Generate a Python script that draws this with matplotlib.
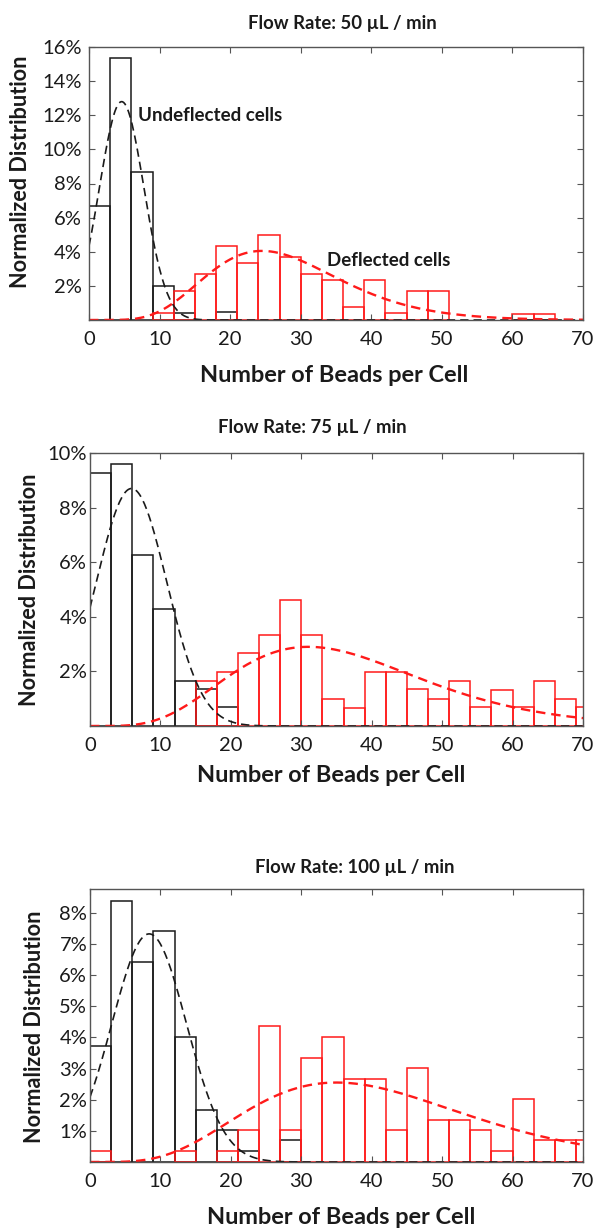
import numpy as np
import matplotlib.pyplot as plt

plt.rcParams['font.family'] = ['Lato', 'DejaVu Sans']

# bins of 3 beads, 0-3, 3-6, ... 69-72
bin_edges = np.arange(0, 75, 3)

# heights in %
undeflected_50 = [6.66, 15.33, 8.68, 2.02, 0.39, 0, 0.45, 0, 0, 0, 0, 0,
                  0, 0, 0, 0, 0, 0, 0, 0, 0, 0, 0, 0]
deflected_50 = [0, 0, 0, 0.40, 1.70, 2.68, 4.35, 3.33, 5.00, 3.70, 2.68, 2.35,
                0.74, 2.35, 0.39, 1.70, 1.70, 0, 0, 0, 0.35, 0.35, 0, 0]

undeflected_75 = [9.27, 9.61, 6.26, 4.30, 1.65, 1.34, 0.68, 0, 0, 0, 0, 0,
                  0, 0, 0, 0, 0, 0, 0, 0, 0, 0, 0, 0]
deflected_75 = [0, 0, 0, 0, 0, 1.65, 1.99, 2.66, 3.32, 4.61, 3.32, 1.00,
                0.67, 1.98, 1.98, 1.34, 1.00, 1.65, 0.68, 1.32, 0.68, 1.65, 1.00, 0.68]

undeflected_100 = [3.71, 8.39, 6.41, 7.41, 4.02, 1.68, 1.02, 0.35, 0, 0.70, 0, 0,
                   0, 0, 0, 0, 0, 0, 0, 0, 0, 0, 0, 0]
deflected_100 = [0.36, 0, 0, 0, 0.35, 0, 0.35, 1.02, 4.37, 1.02, 3.33, 4.00,
                 2.67, 2.67, 1.02, 3.01, 1.36, 1.36, 1.02, 0.35, 2.02, 0.69, 0.69, 0.69]

# fitted curves: normal for undeflected (mean, sd, peak), gamma-like for deflected (mode, k-1, peak)
fit_black = [(4.63, 3.15, 12.8), (5.9, 5.0, 8.7), (8.4, 5.3, 7.32)]
fit_red = [(24.5, 6.8, 4.05), (31.0, 5.2, 2.9), (35.0, 5.0, 2.55)]

titles = ['Flow Rate: 50 µL / min', 'Flow Rate: 75 µL / min', 'Flow Rate: 100 µL / min']
y_tops = [16, 10, 8.76]
y_ticks = [[2, 4, 6, 8, 10, 12, 14, 16], [2, 4, 6, 8, 10], [1, 2, 3, 4, 5, 6, 7, 8]]
x_ticks = [0, 10, 20, 30, 40, 50, 60, 70]

hists = [(undeflected_50, deflected_50), (undeflected_75, deflected_75),
         (undeflected_100, deflected_100)]

W, H = 600, 1231
fig = plt.figure(figsize=(W / 100, H / 100), dpi=100)

# pixel boxes of each axes (left, top, right, bottom)
boxes = [(89, 47, 583, 320), (90, 453, 583, 726), (90, 889, 583, 1162)]
title_pos = [(342, 24), (312, 428), (355, 868)]
xlabel_pos = [(334, 375), (331, 775), (341, 1218)]
ylabel_pos = [(21, 172), (30, 590), (35, 1027)]
ypads = [5, 2, 2]

xs = np.linspace(0, 70, 400)
edge_c = '#555555'

for i in range(3):
    l, t, r, b = boxes[i]
    ax = fig.add_axes([l / W, 1 - b / H, (r - l) / W, (b - t) / H])
    black, red = hists[i]
    black = np.array(black)
    red = np.array(red)
    left = bin_edges[:-1]

    mb = black > 0
    ax.bar(left[mb], black[mb], width=3, align='edge', fill=False,
           edgecolor='#1a1a1a', linewidth=1.1)
    mr = red > 0
    ax.bar(left[mr], red[mr], width=3, align='edge', fill=False,
           edgecolor='#ff1a1a', linewidth=1.1)

    mu, sd, pk = fit_black[i]
    ax.plot(xs, pk * np.exp(-(xs - mu) ** 2 / (2 * sd ** 2)), color='#1a1a1a',
            linestyle=(0, (5, 3)), linewidth=1.2)
    mode, km1, pk = fit_red[i]
    u = np.maximum(xs, 1e-9) / mode
    ax.plot(xs, pk * u ** km1 * np.exp(-km1 * (u - 1)), color='#ff1a1a',
            linestyle=(0, (4, 2.5)), linewidth=1.7)

    ax.set_xlim(0, 70)
    ax.set_ylim(0, y_tops[i])
    ax.set_xticks(x_ticks)
    ax.set_xticklabels([str(v) for v in x_ticks])
    ax.set_yticks(y_ticks[i])
    ax.set_yticklabels([f'{v}%' for v in y_ticks[i]])
    ax.tick_params(direction='in', top=True, right=True, length=4, width=0.8,
                   color=edge_c, labelsize=14.5, labelcolor='#1a1a1a')
    ax.tick_params(axis='x', pad=8)
    ax.tick_params(axis='y', pad=ypads[i])
    for s in ax.spines.values():
        s.set_color(edge_c)
        s.set_linewidth(1.0)

    fig.text(title_pos[i][0] / W, 1 - title_pos[i][1] / H, titles[i], ha='center',
             va='center', fontsize=13.3, fontweight='bold', color='#1a1a1a')
    fig.text(xlabel_pos[i][0] / W, 1 - xlabel_pos[i][1] / H, 'Number of Beads per Cell',
             ha='center', va='center', fontsize=16.9, fontweight='bold', color='#1a1a1a')
    fig.text(ylabel_pos[i][0] / W, 1 - ylabel_pos[i][1] / H, 'Normalized Distribution',
             ha='center', va='center', rotation=90, fontsize=15.6, fontweight='bold',
             color='#1a1a1a')

    if i == 0:
        ax.text(6.94, 12.0, 'Undeflected cells', ha='left', va='center',
                fontsize=13.5, fontweight='bold', color='#1a1a1a')
        ax.text(33.7, 3.46, 'Deflected cells', ha='left', va='center',
                fontsize=13.5, fontweight='bold', color='#1a1a1a')

fig.savefig('out.png', dpi=100)
